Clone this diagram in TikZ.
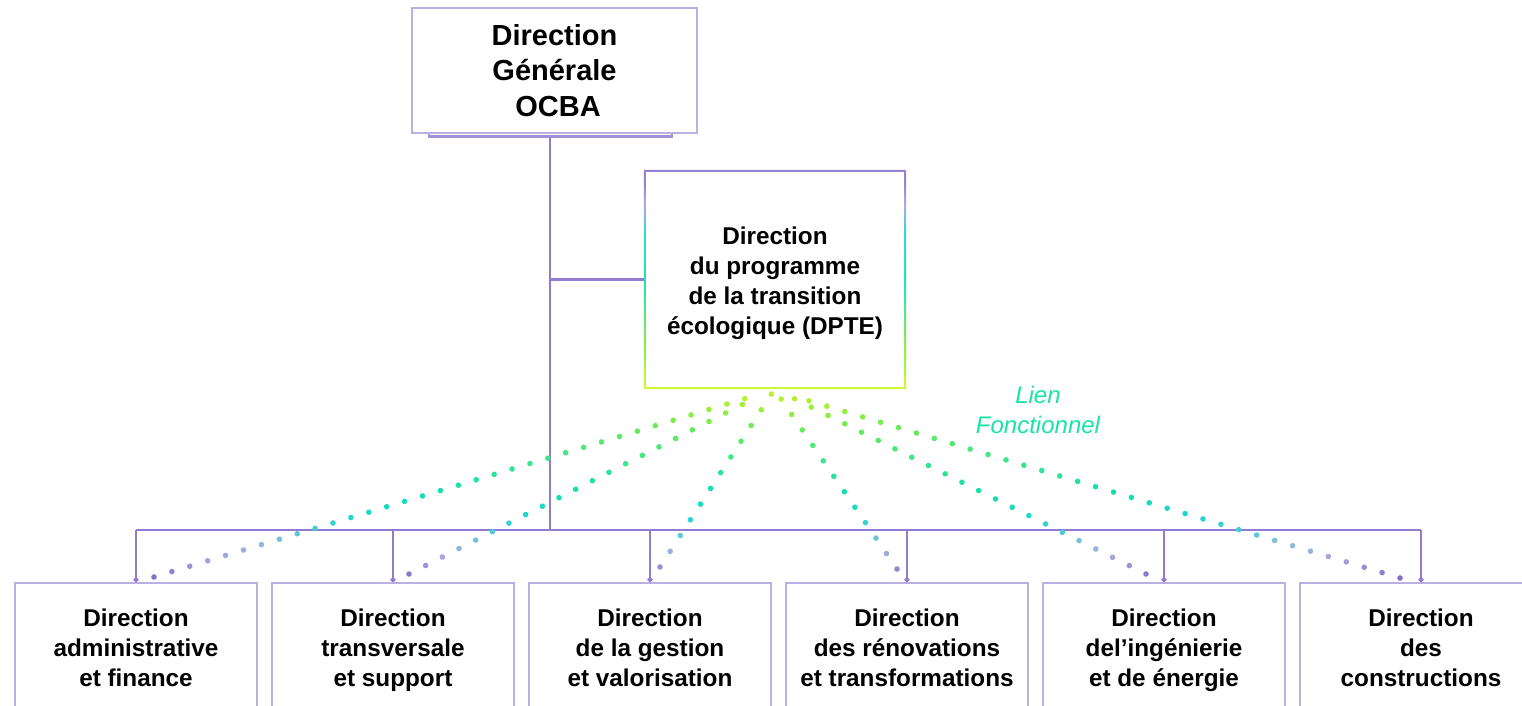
\documentclass[tikz,border=0pt]{standalone}
\usepackage{fontspec}
\setmainfont{Liberation Sans}
\usetikzlibrary{decorations.markings,arrows.meta}

\definecolor{connP}{RGB}{145,124,210}
\definecolor{boxP}{RGB}{186,176,228}
\definecolor{lienC}{RGB}{25,228,165}
% dot gradient stops (by vertical position)
\definecolor{d0}{RGB}{205,240,45}
\definecolor{d1}{RGB}{150,240,60}
\definecolor{d2}{RGB}{100,235,90}
\definecolor{d3}{RGB}{60,230,140}
\definecolor{d4}{RGB}{20,225,170}
\definecolor{d5}{RGB}{30,215,205}
\definecolor{d6}{RGB}{70,205,215}
\definecolor{d7}{RGB}{145,185,220}
\definecolor{d8}{RGB}{168,162,220}
\definecolor{d9}{RGB}{130,110,200}
% border gradient of DPTE box
\definecolor{gA}{RGB}{210,248,55}
\definecolor{gB}{RGB}{130,236,80}
\definecolor{gC}{RGB}{30,226,190}
\definecolor{gD}{RGB}{60,212,212}
\definecolor{gE}{RGB}{175,170,225}
\definecolor{gF}{RGB}{150,130,212}
\pgfdeclareverticalshading{dptegrad}{100bp}{color(0bp)=(gA); color(25bp)=(gA); color(36bp)=(gB); color(50bp)=(gC); color(61bp)=(gD); color(67bp)=(gE); color(72bp)=(gF); color(100bp)=(gF)}

\newcommand\segcol[4]{\pgfmathsetmacro\pp{max(0,min(100,(#2-\yv)/(#2-#1)*100))}\colorlet{dc}{#3!\pp!#4}}
\newcommand\setdotcolor{%
 \ifdim\yv pt<410pt \segcol{390}{410}{d0}{d1}\else
 \ifdim\yv pt<430pt \segcol{410}{430}{d1}{d2}\else
 \ifdim\yv pt<460pt \segcol{430}{460}{d2}{d3}\else
 \ifdim\yv pt<490pt \segcol{460}{490}{d3}{d4}\else
 \ifdim\yv pt<515pt \segcol{490}{515}{d4}{d5}\else
 \ifdim\yv pt<530pt \segcol{515}{530}{d5}{d6}\else
 \ifdim\yv pt<545pt \segcol{530}{545}{d6}{d7}\else
 \ifdim\yv pt<560pt \segcol{545}{560}{d7}{d8}\else
 \segcol{560}{578}{d8}{d9}\fi\fi\fi\fi\fi\fi\fi\fi}
\newcommand\gradot{\pgfgettransformentries\ta\tb\tc\td\tx\ty
 \pgfmathsetmacro\yv{0-(\ty)}\setdotcolor\fill[dc] (0,0) circle (2.8pt);}
\newcommand\dsc{\vphantom{gp}}

\tikzset{
 conn/.style={draw=connP, line width=2.1pt},
 tbox/.style={draw=boxP, line width=1.8pt, fill=white, minimum width=285pt, minimum height=125pt, inner sep=0pt, align=center, font=\fontsize{29}{35.5}\selectfont\bfseries},
 dbox/.style={minimum width=262pt, minimum height=219pt, inner sep=0pt},
 dtext/.style={inner sep=0pt, align=center, font=\fontsize{24.3}{30}\selectfont\bfseries},
 bbox/.style={draw=boxP, line width=1.5pt, minimum width=242pt, minimum height=134pt, inner sep=0pt, align=center, font=\fontsize{24.3}{30}\selectfont\bfseries},
 lien/.style={text=lienC, align=center, inner sep=0pt, font=\fontsize{24}{30}\selectfont\itshape},
 fdots/.style={decoration={markings, mark=between positions 0 and 1 step 18.7pt with {\gradot}}, postaction={decorate}}
}

\begin{document}
\begin{tikzpicture}[x=1pt,y=-1pt]
\useasboundingbox (0,0) rectangle (1522,706);
\clip (0,0) rectangle (1522,706);

% top box and its base bar
\draw[conn, line width=2.2pt, draw=connP!85] (429,133) -- (429,136.5) -- (672,136.5) -- (672,133);
\node[tbox] (dg) at (554.5,70.5) {Direction\\Générale\\\hspace*{7pt}OCBA};

% DPTE box
\node[dbox] (dpte) at (775,279.5) {};
\shade[shading=dptegrad, even odd rule] (dpte.north west) rectangle (dpte.south east)
  ([xshift=2pt,yshift=-2pt]dpte.north west) rectangle ([xshift=-2pt,yshift=2pt]dpte.south east);
\node[dtext] (dptetext) at (775,283.5) {Direction\\du programme\\de la transition\\écologique (DPTE)};

% bottom boxes
\node[bbox] (b1) at (136,650) {Direction\\administrative\\et finance\dsc};
\node[bbox] (b2) at (393,650) {Direction\\transversale\\et support\dsc};
\node[bbox] (b3) at (650,650) {Direction\\de la gestion\\et valorisation\dsc};
\node[bbox] (b4) at (907,650) {Direction\\des rénovations\\et transformations\dsc};
\node[bbox] (b5) at (1164,650) {Direction\\del’ingénierie\\et de énergie\dsc};
\node[bbox] (b6) at (1421,650) {Direction\\des\\constructions\dsc};

% hierarchy connectors
\coordinate (tbfoot) at (550,136.5);
\coordinate (jn) at (550,279.5);
\coordinate (bus) at (550,530);
\draw[conn] (tbfoot) -- (bus);
\draw[conn] (jn) -- (dpte.west);
\draw[conn] (b1.north |- bus) -- (b6.north |- bus);
\foreach \i in {1,...,6}{
  \draw[conn, -{Circle[length=5pt,width=5pt]}] (b\i.north |- bus) -- (b\i.north);
}

% functional links (dotted)
\coordinate (s1) at (757,395);  \coordinate (e1) at (154,577);
\coordinate (s2) at (757,397);  \coordinate (e2) at (409,574);
\coordinate (s3) at (774,390);  \coordinate (e3) at (660,567);
\coordinate (s4) at (775,390);  \coordinate (e4) at (897,569);
\coordinate (s5) at (791,397);  \coordinate (e5) at (1146,574);
\coordinate (s6) at (793,396);  \coordinate (e6) at (1400,578);
\foreach \i in {1,...,6}{
  \path[fdots] (e\i) -- (s\i);
}

\node[lien] (lf) at (1038,410) {Lien\\Fonctionnel};
\end{tikzpicture}
\end{document}
